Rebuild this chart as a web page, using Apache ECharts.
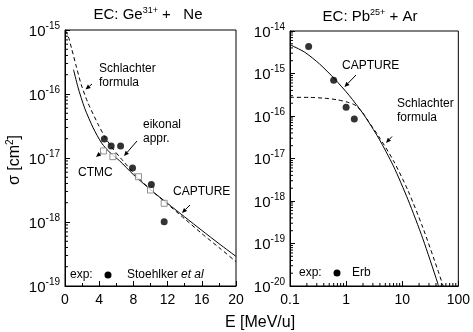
<!DOCTYPE html>
<html>
<head>
<meta charset="utf-8">
<script src="https://cdn.jsdelivr.net/npm/echarts@6/dist/echarts.min.js"></script>
<style>
  html, body { margin: 0; padding: 0; background: #fff; }
  #chart { width: 473px; height: 332px; }
</style>
</head>
<body>
<div id="chart"></div>
<script>
// EC: Ge31+ + Ne (left) and Pb25+ + Ar (right)
const FONT = 'Liberation Sans';

// left panel, E in MeV/u, sigma in cm^2
const geCaptureE = [1.0, 1.5, 2.3, 3.3, 4.3, 5.3, 6.4, 8, 10, 12, 14, 16, 18, 20];
const geCaptureSig = [2.4e-16, 1.3e-16, 6.0e-17, 2.95e-17, 1.7e-17, 1.2e-17, 9.0e-18, 5.5e-18, 3.2e-18, 1.95e-18, 1.2e-18, 7.4e-19, 4.6e-19, 2.9e-19];
const geSchlE = [0.05, 0.4, 0.76, 1.35, 1.9, 2.7, 3.9, 4.7, 5.5, 6.5, 8, 10, 12, 14, 16, 18, 20];
const geSchlSig = [9.8e-16, 7.8e-16, 5.2e-16, 2.6e-16, 1.4e-16, 7.2e-17, 3.3e-17, 2.1e-17, 1.45e-17, 1.0e-17, 5.9e-18, 3.2e-18, 1.9e-18, 1.12e-18, 6.6e-19, 4.0e-19, 2.4e-19];
const stoehlkerE = [4.6, 5.4, 6.5, 7.9, 10.1, 11.6];
const stoehlkerSig = [1.98e-17, 1.54e-17, 1.54e-17, 6.98e-18, 3.85e-18, 1.01e-18];
const ctmcE = [4.5, 5.6, 8.6, 10.0, 11.6];
const ctmcSig = [1.29e-17, 1.05e-17, 5.1e-18, 3.16e-18, 1.96e-18];

// right panel
const pbCaptureE = [0.1, 0.183, 0.336, 0.615, 1.13, 2.07, 3.79, 6.95, 12.7, 23.3, 42.8, 44];
const pbCaptureSig = [4.76e-15, 3.17e-15, 1.68e-15, 7.6e-16, 3.07e-16, 1.07e-16, 3.02e-17, 6.7e-18, 1.07e-18, 1.3e-19, 1.18e-20, 1.0e-20];
const pbSchlE = [0.1, 0.224, 0.411, 0.695, 1.04, 1.38, 1.56, 1.99, 2.53, 3.79, 6.95, 12.7, 23.3, 42.8, 54.6];
const pbSchlSig = [2.75e-16, 2.74e-16, 2.62e-16, 2.41e-16, 2.13e-16, 1.87e-16, 1.67e-16, 1.18e-16, 7.3e-17, 3.35e-17, 8.97e-18, 1.75e-18, 2.38e-19, 2.43e-20, 9.3e-21];
const erbE = [0.215, 0.6, 1.0, 1.4];
const erbSig = [4.3e-15, 6.9e-16, 1.6e-16, 8.5e-17];

const pairs = (xs, ys) => xs.map((x, i) => [x, ys[i]]);

// minor tick positions of the log axes (2..9 per decade)
const logMinor = (lo, hi) => {
  let out = [];
  for (let k = lo; k < hi; k++) for (let m = 2; m <= 9; m++) out.push(m * Math.pow(10, k));
  return out;
};

const chart = echarts.init(document.getElementById('chart'));

const expLabel = (v) => '{a|10}{b|' + Math.round(Math.log10(v)) + '}';
const expRich = {
  a: { fontSize: 15, fontFamily: FONT, color: '#000', verticalAlign: 'bottom' },
  b: { fontSize: 10, fontFamily: FONT, color: '#000', verticalAlign: 'bottom', padding: [0, 0, 8, 0] }
};

const axisCommon = {
  axisLine: { lineStyle: { color: '#000', width: 1 } },
  axisTick: { inside: true, length: 5, lineStyle: { color: '#000' } },
  splitLine: { show: false }
};

const arrow = (x1, y1, x2, y2) => {
  const a = Math.atan2(y2 - y1, x2 - x1), L = 5, W = 2.2;
  const bx = x2 - L * Math.cos(a), by = y2 - L * Math.sin(a);
  return [
    { type: 'line', shape: { x1: x1, y1: y1, x2: bx, y2: by }, style: { stroke: '#000', lineWidth: 1 } },
    { type: 'polygon', shape: { points: [[x2, y2], [bx + W * Math.sin(a), by - W * Math.cos(a)], [bx - W * Math.sin(a), by + W * Math.cos(a)]] }, style: { fill: '#000' } }
  ];
};

const txt = (x, y, text, size, extra) => Object.assign({
  type: 'text', x: x, y: y,
  style: { text: text, fontSize: size || 12, fontFamily: FONT, fill: '#000', align: 'left', verticalAlign: 'middle', lineHeight: 14 }
}, extra || {});

const minorSeries = (xi, yi, vals, fn) => ({
  type: 'custom', xAxisIndex: xi, yAxisIndex: yi, silent: true, z: 3,
  data: vals.map(v => [v]),
  renderItem: (params, api) => fn(api, api.value(0))
});

const curve = (xi, data, dashed) => ({
  type: 'line', xAxisIndex: xi, yAxisIndex: xi, data: data, smooth: 0.25,
  showSymbol: false, lineStyle: { color: '#000', width: 1, type: dashed ? [4, 3] : 'solid' }, z: 2
});

const supRich = {
  a: { fontSize: 15, fontFamily: FONT, fill: '#000', verticalAlign: 'bottom' },
  s: { fontSize: 9, fontFamily: FONT, fill: '#000', verticalAlign: 'bottom', padding: [0, 0, 7, 0] }
};

const option = {
  animation: false,
  grid: [
    { left: 65, top: 30, width: 171, height: 256, show: true, borderColor: '#000', borderWidth: 1 },
    { left: 290, top: 31, width: 171, height: 255, show: true, borderColor: '#000', borderWidth: 1 }
  ],
  xAxis: [
    Object.assign({}, axisCommon, {
      gridIndex: 0, type: 'value', min: 0, max: 20, interval: 4,
      minorTick: { show: true, splitNumber: 2, length: 3, lineStyle: { color: '#000' } },
      axisLabel: { color: '#000', fontSize: 14, fontFamily: FONT, margin: 7 }
    }),
    Object.assign({}, axisCommon, {
      gridIndex: 1, type: 'log', logBase: 10, min: 0.1, max: 100,
      axisLabel: { color: '#000', fontSize: 14, fontFamily: FONT, margin: 7,
        formatter: v => v < 1 ? v.toFixed(1) : String(Math.round(v)) }
    })
  ],
  yAxis: [
    Object.assign({}, axisCommon, {
      gridIndex: 0, type: 'log', logBase: 10, min: 1e-19, max: 1e-15,
      axisLabel: { margin: 5, formatter: expLabel, rich: expRich }
    }),
    Object.assign({}, axisCommon, {
      gridIndex: 1, type: 'log', logBase: 10, min: 1e-20, max: 1e-14,
      axisLabel: { margin: 5, formatter: expLabel, rich: expRich }
    })
  ],
  series: [
    curve(0, pairs(geCaptureE, geCaptureSig), false),
    curve(0, pairs(geSchlE, geSchlSig), true),
    { type: 'scatter', xAxisIndex: 0, yAxisIndex: 0, data: pairs(ctmcE, ctmcSig), symbol: 'rect', symbolSize: 6,
      itemStyle: { color: '#fff', borderColor: '#777', borderWidth: 1 }, z: 4 },
    { type: 'scatter', xAxisIndex: 0, yAxisIndex: 0, data: pairs(stoehlkerE, stoehlkerSig), symbol: 'circle', symbolSize: 7,
      itemStyle: { color: '#000' }, z: 5 },
    curve(1, pairs(pbCaptureE, pbCaptureSig), false),
    curve(1, pairs(pbSchlE, pbSchlSig), true),
    { type: 'scatter', xAxisIndex: 1, yAxisIndex: 1, data: pairs(erbE, erbSig), symbol: 'circle', symbolSize: 7,
      itemStyle: { color: '#000' }, z: 5 },
    // minor ticks on the log axes
    minorSeries(0, 0, logMinor(-19, -15), (api, v) => {
      const p = api.coord([0, v]);
      return { type: 'line', shape: { x1: p[0], y1: p[1], x2: p[0] + 3, y2: p[1] }, style: { stroke: '#000', lineWidth: 1 } };
    }),
    minorSeries(1, 1, logMinor(-20, -14), (api, v) => {
      const p = api.coord([0.1, v]);
      return { type: 'line', shape: { x1: p[0], y1: p[1], x2: p[0] + 3, y2: p[1] }, style: { stroke: '#000', lineWidth: 1 } };
    }),
    minorSeries(1, 1, logMinor(-1, 2), (api, v) => {
      const p = api.coord([v, 1e-20]);
      return { type: 'line', shape: { x1: p[0], y1: p[1], x2: p[0], y2: p[1] - 3 }, style: { stroke: '#000', lineWidth: 1 } };
    })
  ],
  graphic: [
    { type: 'text', x: 148, y: 14, style: { text: '{a|EC: Ge}{s|31+}{a| +   Ne}', align: 'center', verticalAlign: 'middle', rich: supRich } },
    { type: 'text', x: 370, y: 16, style: { text: '{a|EC: Pb}{s|25+}{a| + Ar}', align: 'center', verticalAlign: 'middle', rich: supRich } },
    { type: 'text', x: 14, y: 160, rotation: Math.PI / 2,
      style: { text: '{a|σ [cm}{s|2}{a|]}', align: 'center', verticalAlign: 'middle',
        rich: { a: { fontSize: 16, fontFamily: FONT, fill: '#000', verticalAlign: 'bottom' }, s: { fontSize: 10, fontFamily: FONT, fill: '#000', verticalAlign: 'bottom', padding: [0, 0, 8, 0] } } } },
    { type: 'text', x: 260, y: 323, style: { text: 'E [MeV/u]', fontSize: 16, fontFamily: FONT, fill: '#000', align: 'center', verticalAlign: 'middle' } },
    // left annotations
    txt(99, 76, 'Schlachter\nformula', 12),
    txt(143, 132, 'eikonal\nappr.', 12),
    txt(78, 173, 'CTMC', 12),
    txt(173, 192, 'CAPTURE', 12),
    txt(70, 275, 'exp:', 12),
    { type: 'circle', shape: { cx: 108, cy: 275, r: 3.5 }, style: { fill: '#000' } },
    { type: 'text', x: 127, y: 275, style: { text: '{a|Stoehlker }{i|et al}', align: 'left', verticalAlign: 'middle',
      rich: { a: { fontSize: 12, fontFamily: FONT, fill: '#000' }, i: { fontSize: 12, fontFamily: FONT, fontStyle: 'italic', fill: '#000' } } } },
    ...arrow(92, 84, 85.5, 89.5),
    ...arrow(137, 141, 124, 156),
    ...arrow(102, 152, 96, 157),
    ...arrow(190, 205, 182, 213),
    // right annotations
    txt(342, 66, 'CAPTURE', 12),
    txt(397, 111, 'Schlachter\nformula', 12),
    txt(299, 273, 'exp:', 12),
    { type: 'circle', shape: { cx: 337, cy: 273, r: 3.5 }, style: { fill: '#000' } },
    txt(352, 273, 'Erb', 12),
    ...arrow(356, 75, 344.5, 87),
    ...arrow(392, 136.5, 386, 143)
  ]
};

chart.setOption(option);
window.addEventListener('resize', function () {
  chart && chart.resize();
});
</script>
</body>
</html>
